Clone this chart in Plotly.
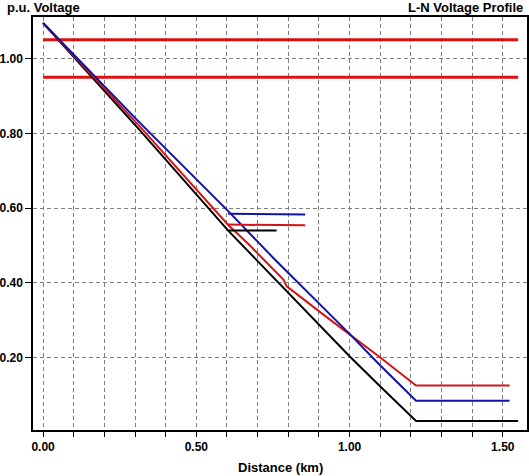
import plotly.graph_objects as go

# distance (km) / voltage (p.u.)
phase_a_km = [0, 0.316, 0.604, 0.675, 0.784, 0.795, 0.936, 1.002, 1.097, 1.217, 1.522]
phase_a_pu = [1.095, 0.818, 0.555, 0.500, 0.409, 0.391, 0.302, 0.262, 0.203, 0.126, 0.126]

phase_b_km = [0, 0.316, 0.604, 0.757, 1.0, 1.097, 1.217, 1.522]
phase_b_pu = [1.095, 0.828, 0.592, 0.462, 0.264, 0.182, 0.085, 0.085]

phase_c_km = [0, 0.316, 0.604, 0.675, 0.936, 1.0, 1.097, 1.217, 1.55]
phase_c_pu = [1.095, 0.808, 0.540, 0.480, 0.258, 0.204, 0.126, 0.031, 0.031]

# lateral branch at ~0.6 km
branch_a_km = [0.604, 0.762, 0.855]
branch_a_pu = [0.556, 0.556, 0.554]
branch_b_km = [0.604, 0.762, 0.855]
branch_b_pu = [0.585, 0.585, 0.583]
branch_c_km = [0.604, 0.762]
branch_c_pu = [0.540, 0.540]

# voltage limits
limit_km = [0, 1.55]
upper_limit = 1.05
lower_limit = 0.95

RED = "#d41414"
BLUE = "#1212a8"
BLACK = "#000000"

fig = go.Figure()

for lvl in [upper_limit, lower_limit]:
    fig.add_trace(go.Scatter(x=limit_km, y=[lvl, lvl], mode="lines",
                             line=dict(color="#dc1010", width=3), hoverinfo="skip"))

series = [
    (phase_c_km, phase_c_pu, BLACK),
    (phase_a_km, phase_a_pu, RED),
    (phase_b_km, phase_b_pu, BLUE),
    (branch_c_km, branch_c_pu, BLACK),
    (branch_a_km, branch_a_pu, RED),
    (branch_b_km, branch_b_pu, BLUE),
]
for xs, ys, col in series:
    fig.add_trace(go.Scatter(x=xs, y=ys, mode="lines",
                             line=dict(color=col, width=2)))

tickfont = dict(family="Liberation Sans", size=12, color="black", weight="bold")
grid = dict(showgrid=True, gridcolor="#808080", griddash="4px,3px", gridwidth=1)
labelfont = dict(family="Liberation Sans", size=13, color="black")

fig.update_layout(
    width=529, height=476,
    margin=dict(l=33, r=2, t=17, b=46),
    paper_bgcolor="white", plot_bgcolor="white",
    showlegend=False,
    font=dict(family="Liberation Sans", size=12, color="black"),
    xaxis=dict(
        range=[-0.033, 1.579], tickmode="linear", tick0=0, dtick=0.5,
        tickformat=".2f", ticks="outside", ticklen=5, tickcolor="black",
        showline=True, linecolor="black", linewidth=1.5, mirror=True,
        minor=dict(dtick=0.1, tick0=0, ticks="outside", ticklen=5, tickcolor="black", **grid),
        tickfont=tickfont, zeroline=False, automargin=False, **grid,
    ),
    yaxis=dict(
        range=[0.007, 1.111], tickmode="linear", tick0=0, dtick=0.2,
        tickformat=".2f", ticks="outside", ticklen=6, tickcolor="black",
        showline=True, linecolor="black", linewidth=1.5, mirror=True,
        tickfont=tickfont, zeroline=False, automargin=False, **grid,
    ),
    annotations=[
        dict(text="<b>p.u. Voltage</b>", xref="paper", yref="paper",
             x=-0.057, y=1.024, xanchor="left", yanchor="middle", showarrow=False,
             font=labelfont),
        dict(text="<b>L-N Voltage Profile</b>", xref="paper", yref="paper",
             x=0.996, y=1.024, xanchor="right", yanchor="middle", showarrow=False,
             font=labelfont),
        dict(text="<b>Distance (km)</b>", xref="paper", yref="paper",
             x=0.5, y=-0.09, xanchor="center", yanchor="middle", showarrow=False,
             font=labelfont),
    ],
)

# page body has a default margin; drop it so the figure fills the window
fig.write_html("out.html", config={"displayModeBar": False},
               post_script="document.body.style.margin='0';document.body.style.overflow='hidden';")
